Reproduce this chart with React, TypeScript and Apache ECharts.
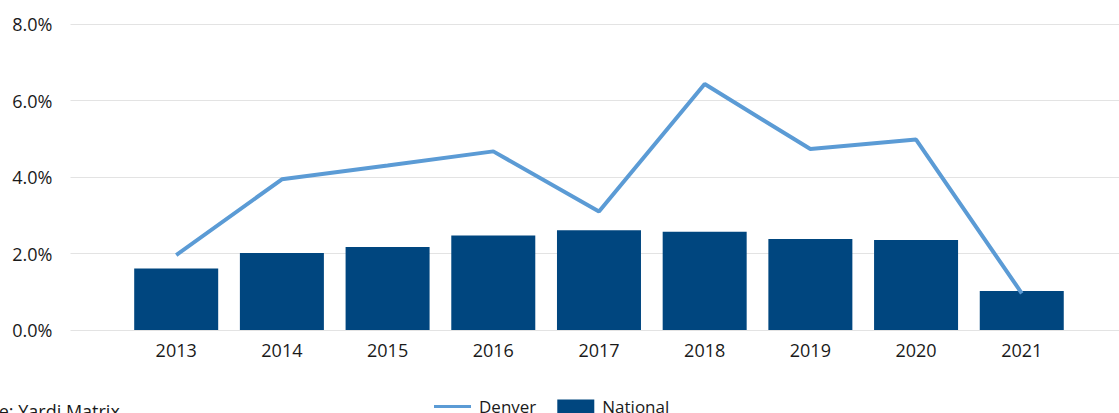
import React, { useEffect, useRef } from "react";
import * as echarts from "echarts";

const years = [2013, 2014, 2015, 2016, 2017, 2018, 2019, 2020, 2021];
const denver = [1.96, 3.94, 4.3, 4.67, 3.1, 6.43, 4.73, 4.98, 0.96];
const national = [1.61, 2.01, 2.17, 2.47, 2.61, 2.57, 2.38, 2.35, 1.02];
const yTicks = [0, 2, 4, 6, 8];
const sourceText = "Source: Yardi Matrix";

const FONT = "'Open Sans', sans-serif";

export default function App() {
  const ref = useRef<HTMLDivElement>(null);
  useEffect(() => {
    if (!ref.current) return;
    const chart = echarts.init(ref.current, undefined, { renderer: "svg" });
    chart.setOption({
      animation: false,
      backgroundColor: "#ffffff",
      grid: { left: 70.5, right: 0, top: 24, bottom: 83, containLabel: false },
      xAxis: {
        type: "value",
        min: years[0] - 1,
        max: years[years.length - 1] + 0.92,
        interval: 1,
        axisLine: { show: false },
        axisTick: { show: false },
        splitLine: { show: false },
        axisLabel: {
          margin: 11,
          fontFamily: FONT,
          fontSize: 18,
          color: "#1a1a1a",
          showMaxLabel: false,
          formatter: (v: number) => (years.indexOf(Math.round(v)) >= 0 && Math.abs(v - Math.round(v)) < 1e-6 ? String(Math.round(v)) : ""),
        },
      },
      yAxis: {
        type: "value",
        min: yTicks[0],
        max: yTicks[yTicks.length - 1],
        interval: 2,
        axisLine: { show: false },
        axisTick: { show: false },
        splitLine: { show: true, lineStyle: { color: "#e3e3e3", width: 1 } },
        axisLabel: {
          margin: 18,
          fontFamily: FONT,
          fontSize: 18,
          color: "#1a1a1a",
          formatter: (v: number) => v.toFixed(1) + "%",
        },
      },
      legend: {
        left: 434,
        top: 398,
        padding: 0,
        itemWidth: 37,
        itemHeight: 14,
        itemGap: 21,
        textStyle: { fontFamily: FONT, fontSize: 17, color: "#1a1a1a", padding: [0, 0, 0, 3] },
        data: [
          { name: "Denver", icon: "path://M0,0 M37,14 M0,5.5 L37,5.5 L37,8.5 L0,8.5 Z" },
          { name: "National", icon: "rect" },
        ],
      },
      series: [
        {
          name: "National",
          type: "bar",
          barWidth: 84,
          itemStyle: { color: "#00467f" },
          data: years.map((y, i) => [y, national[i]]),
        },
        {
          name: "Denver",
          type: "line",
          symbol: "none",
          lineStyle: { color: "#5b9bd5", width: 4 },
          itemStyle: { color: "#5b9bd5" },
          data: years.map((y, i) => [y, denver[i]]),
          z: 5,
        },
      ],
      graphic: [
        {
          type: "text",
          left: -49,
          top: 402,
          style: { text: sourceText, fontFamily: FONT, fontSize: 18, fill: "#1a1a1a" },
        },
      ],
    });
    return () => chart.dispose();
  }, []);
  return <div ref={ref} style={{ width: 1119, height: 413, position: "absolute", left: 0, top: 0 }} />;
}
